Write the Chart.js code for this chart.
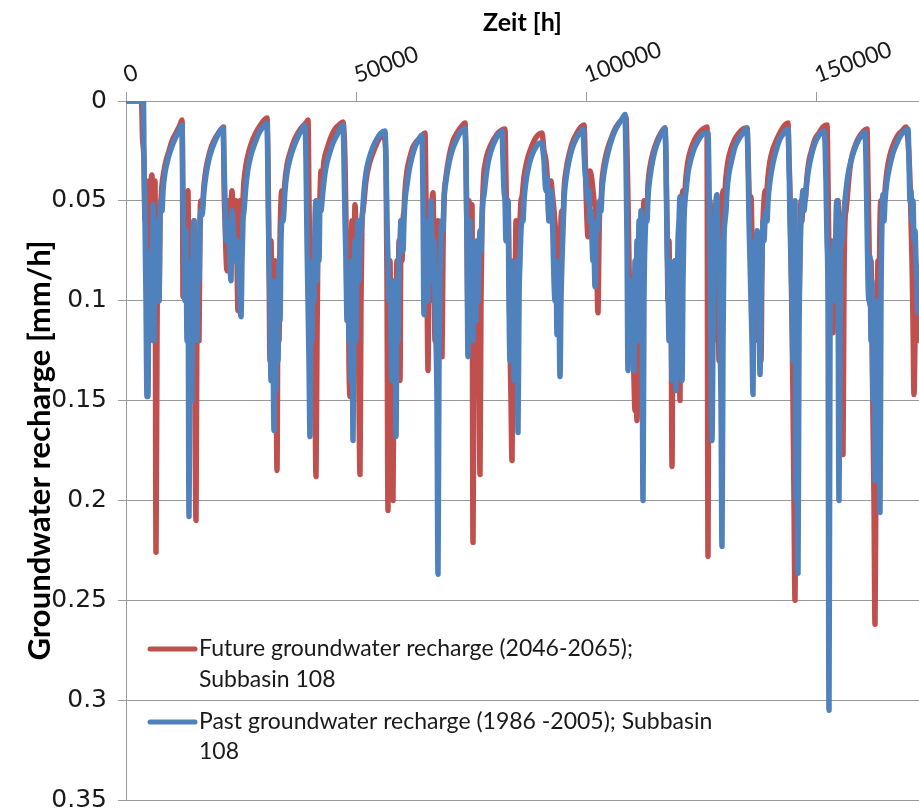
<!DOCTYPE html>
<html>
<head>
<meta charset="utf-8">
<title>Groundwater recharge - Subbasin 108</title>
<script src="https://cdn.jsdelivr.net/npm/chart.js@4.4.1/dist/chart.umd.min.js"></script>
<style>
  html, body { margin: 0; padding: 0; background: #fff; overflow: hidden; }
  #chart { display: block; }
</style>
</head>
<body>
<canvas id="chart" width="919" height="810"></canvas>
<script>
// [time in h, recharge in mm/h] - future scenario 2046-2065, one recession + winter per line
const futureRecharge = [
  [0,0],[3366,0],[3583,0.018],[3908,0.03],[4125,0.06],[4342,0.045],[4559,0.09],[4776,0.05],[4993,0.04],[5210,0.1],[5428,0.045],[5645,0.037],[5862,0.12],[6079,0.06],[6296,0.04],[6513,0.226],[6730,0.12],[6947,0.06],[7164,0.1],[7381,0.06],[7599,0.05],
  [7816,0.042],[8250,0.035],[8684,0.03],[9335,0.025],[9987,0.02],[10855,0.016],[11723,0.012],[12158,0.0095],
  [12267,0.03],[12375,0.098],[12592,0.06],[12809,0.05],[13026,0.1],[13243,0.06],[13460,0.045],[13677,0.13],[13894,0.075],[14112,0.15],[14329,0.07],[14546,0.12],[14763,0.06],[14980,0.15],[15197,0.21],[15414,0.1],[15631,0.07],[15848,0.12],[16065,0.06],[16283,0.05],
  [16500,0.055],[16934,0.042],[17368,0.034],[18019,0.027],[18671,0.022],[19539,0.018],[20407,0.015],[21168,0.013],
  [21276,0.04],[21493,0.06],[21927,0.085],[22144,0.05],[22578,0.06],[23013,0.045],[23447,0.07],[23881,0.05],[24315,0.105],[24532,0.06],[24749,0.05],
  [25184,0.055],[25618,0.04],[26052,0.032],[26703,0.025],[27572,0.019],[28657,0.014],[29526,0.011],[30611,0.0085],
  [30828,0.03],[31045,0.08],[31262,0.13],[31480,0.07],[31697,0.11],[31914,0.09],[32131,0.14],[32348,0.08],[32565,0.12],[32782,0.185],[32999,0.1],[33216,0.12],[33433,0.07],[33651,0.05],[33868,0.045],
  [34085,0.055],[34519,0.04],[34953,0.032],[35604,0.026],[36473,0.02],[37341,0.016],[38210,0.013],[39078,0.011],[39512,0.0095],
  [39729,0.05],[39946,0.09],[40164,0.13],[40381,0.08],[40598,0.12],[40815,0.07],[41032,0.14],[41249,0.188],[41466,0.12],[41683,0.07],[41900,0.06],[42117,0.047],[42335,0.035],
  [42552,0.04],[42986,0.03],[43637,0.024],[44506,0.018],[45374,0.014],[46242,0.012],[47111,0.0105],
  [47545,0.03],[47762,0.06],[47979,0.1],[48196,0.07],[48413,0.13],[48630,0.148],[48848,0.09],[49065,0.06],[49282,0.11],[49499,0.08],[49716,0.052],[49933,0.07],[50150,0.12],[50367,0.09],[50584,0.15],[50801,0.187],[51019,0.1],[51236,0.06],
  [51453,0.055],[52104,0.04],[52755,0.032],[53624,0.026],[54492,0.021],[55361,0.018],[56012,0.018],
  [56446,0.03],[56663,0.09],[56880,0.205],[57097,0.12],[57314,0.08],[57532,0.14],[57749,0.1],[57966,0.2],[58183,0.12],[58400,0.09],[58617,0.1],[58834,0.08],[59051,0.12],[59268,0.07],[59485,0.14],[59703,0.06],[59920,0.08],[60137,0.06],
  [60354,0.055],[60571,0.045],[61005,0.035],[61656,0.028],[62308,0.023],[63176,0.02],[64045,0.018],[64913,0.016],
  [65130,0.05],[65347,0.09],[65564,0.135],[65781,0.08],[65998,0.1],[66216,0.06],[66433,0.05],[66650,0.046],[66867,0.08],[67084,0.12],[67301,0.07],[67518,0.09],[67735,0.06],[67952,0.11],[68169,0.07],[68387,0.09],[68604,0.128],[68821,0.075],
  [69038,0.05],[69472,0.038],[70123,0.028],[70992,0.02],[71860,0.016],[72729,0.013],[73597,0.011],
  [73814,0.03],[74031,0.07],[74248,0.11],[74465,0.05],[74682,0.09],[74900,0.07],[75117,0.052],[75334,0.221],[75551,0.13],[75768,0.09],[75985,0.14],[76202,0.1],[76419,0.08],[76636,0.12],[76853,0.187],[77071,0.1],[77288,0.06],[77505,0.045],[77722,0.035],
  [77939,0.032],[78373,0.027],[79024,0.023],[79893,0.019],[80761,0.016],[81630,0.0145],[82281,0.014],
  [82498,0.04],[82715,0.06],[82932,0.05],[83149,0.08],[83366,0.12],[83584,0.15],[83801,0.18],[84018,0.12],[84235,0.08],[84452,0.1],[84669,0.06],[84886,0.07],[85103,0.12],[85320,0.07],[85537,0.06],[85755,0.05],
  [85972,0.048],[86406,0.038],[87057,0.03],[87708,0.025],[88577,0.02],[89445,0.017],[90314,0.016],
  [90748,0.025],[91182,0.03],[91616,0.045],[91833,0.06],[92050,0.05],[92268,0.04],[92485,0.045],[92919,0.055],[93353,0.07],[93570,0.09],[93787,0.08],[94004,0.1],[94221,0.08],[94439,0.06],[94656,0.055],
  [94873,0.06],[95090,0.045],[95524,0.035],[96175,0.027],[97044,0.02],[97912,0.016],[98781,0.013],[99432,0.012],
  [99649,0.025],[99866,0.045],[100083,0.06],[100300,0.068],[100517,0.04],[100734,0.035],[101169,0.04],[101603,0.05],[102037,0.06],[102471,0.106],[102688,0.07],[102905,0.05],
  [103123,0.05],[103340,0.04],[103774,0.032],[104425,0.025],[105294,0.019],[106162,0.014],[107030,0.011],[107899,0.009],[108550,0.008],
  [108767,0.025],[108984,0.05],[109201,0.08],[109418,0.11],[109636,0.13],[109853,0.1],[110070,0.12],[110287,0.14],[110504,0.155],[110721,0.145],[110938,0.16],[111155,0.12],[111372,0.08],[111589,0.1],[111807,0.065],[112024,0.13],[112241,0.07],[112458,0.05],[112675,0.06],[112892,0.05],
  [113109,0.055],[113326,0.042],[113760,0.033],[114412,0.026],[115280,0.02],[116149,0.016],[117017,0.0135],
  [117234,0.03],[117451,0.06],[117668,0.1],[117885,0.07],[118102,0.12],[118320,0.09],[118537,0.183],[118754,0.1],[118971,0.13],[119188,0.08],[119405,0.12],[119622,0.1],[119839,0.145],[120056,0.09],[120273,0.15],[120491,0.07],[120708,0.05],[120925,0.045],
  [121142,0.05],[121576,0.038],[122010,0.03],[122662,0.024],[123530,0.019],[124398,0.016],[125267,0.014],[126135,0.013],
  [126352,0.228],[126569,0.08],[126786,0.05],[127004,0.07],[127221,0.06],[127438,0.09],[127655,0.06],[127872,0.08],[128089,0.07],[128306,0.12],[128523,0.09],[128740,0.13],[128957,0.08],[129175,0.06],[129392,0.05],[129609,0.045],
  [129826,0.05],[130260,0.038],[130694,0.03],[131346,0.024],[132214,0.019],[133083,0.016],[133951,0.014],[134820,0.0135],
  [135037,0.025],[135254,0.045],[135471,0.06],[135688,0.048],[135905,0.07],[136122,0.1],[136339,0.08],[136556,0.12],[136773,0.09],[136990,0.11],[137207,0.07],[137424,0.1],[137641,0.12],[137859,0.13],[138076,0.08],[138293,0.06],[138510,0.05],[138727,0.045],
  [138944,0.05],[139378,0.038],[139812,0.03],[140464,0.024],[141332,0.019],[142201,0.015],[143069,0.012],[143720,0.011],
  [143937,0.03],[144154,0.045],[144372,0.08],[144589,0.11],[144806,0.15],[145023,0.2],[145240,0.25],[145457,0.18],[145674,0.12],[145891,0.08],[146108,0.1],[146325,0.07],[146543,0.05],[146760,0.06],[146977,0.045],[147194,0.05],
  [147411,0.05],[147845,0.038],[148279,0.03],[148931,0.024],[149582,0.019],[150450,0.016],[151319,0.013],[152187,0.012],
  [152404,0.04],[152621,0.08],[152838,0.1],[153056,0.07],[153273,0.09],[153490,0.116],[153707,0.08],[153924,0.1],[154141,0.07],[154358,0.06],[154575,0.05],[154792,0.08],[155009,0.12],[155227,0.14],[155444,0.16],[155661,0.177],[155878,0.09],[156095,0.06],[156312,0.055],
  [156529,0.05],[156963,0.038],[157398,0.03],[158049,0.024],[158917,0.019],[159786,0.016],[160437,0.0145],[160871,0.014],
  [161088,0.04],[161305,0.07],[161522,0.102],[161740,0.08],[161957,0.12],[162174,0.16],[162391,0.2],[162608,0.262],[162825,0.18],[163042,0.12],[163259,0.08],[163476,0.1],[163693,0.06],[163911,0.05],[164128,0.055],
  [164345,0.06],[164779,0.045],[165213,0.035],[165864,0.027],[166733,0.021],[167601,0.017],[168470,0.015],[169338,0.013],
  [169772,0.02],[170206,0.04],[170424,0.06],[170641,0.08],[170858,0.11],[171075,0.147],[171292,0.12],[171509,0.1],[171726,0.12],[171943,0.108],[172160,0.1]
];

// [time in h, recharge in mm/h] - reference period 1986-2005
const pastRecharge = [
  [0,0],[3800,0],[3908,0.03],[4125,0.06],[4342,0.1],[4559,0.148],[4776,0.148],[4993,0.08],[5210,0.1],[5428,0.075],[5645,0.09],[5862,0.052],[6079,0.12],[6296,0.08],[6513,0.06],[6730,0.09],[6947,0.07],[7164,0.1],[7381,0.06],[7599,0.05],
  [7816,0.055],[8033,0.045],[8467,0.036],[9118,0.029],[9770,0.024],[10638,0.019],[11506,0.015],[12158,0.012],
  [12375,0.05],[12592,0.07],[12809,0.1],[13026,0.065],[13243,0.12],[13460,0.08],[13677,0.208],[13894,0.12],[14112,0.1],[14329,0.15],[14546,0.08],[14763,0.06],[14980,0.1],[15197,0.07],[15414,0.12],[15631,0.075],[15848,0.09],[16065,0.065],[16283,0.055],
  [16500,0.057],[16934,0.045],[17368,0.037],[18019,0.029],[18671,0.024],[19539,0.019],[20407,0.015],[21059,0.0135],
  [21276,0.03],[21493,0.05],[21710,0.07],[21927,0.06],[22361,0.065],[22796,0.09],[23013,0.055],[23230,0.06],[23664,0.08],[24098,0.07],[24532,0.09],[24967,0.108],[25184,0.08],[25401,0.06],
  [25618,0.055],[26052,0.042],[26486,0.034],[27138,0.027],[28006,0.021],[28874,0.016],[29743,0.013],[30611,0.011],
  [30828,0.04],[31045,0.08],[31262,0.1],[31480,0.14],[31697,0.09],[31914,0.12],[32131,0.165],[32348,0.1],[32565,0.145],[32782,0.09],[32999,0.13],[33216,0.08],[33433,0.11],[33651,0.07],[33868,0.06],
  [34085,0.06],[34519,0.045],[34953,0.036],[35604,0.029],[36256,0.024],[37124,0.019],[37993,0.015],[38861,0.012],
  [39078,0.03],[39295,0.07],[39512,0.1],[39729,0.13],[39946,0.168],[40164,0.1],[40381,0.12],[40598,0.08],[40815,0.1],[41032,0.06],[41249,0.05],[41466,0.09],[41683,0.06],[41900,0.08],[42117,0.05],[42335,0.055],
  [42552,0.05],[42986,0.04],[43420,0.033],[44071,0.027],[44940,0.021],[45808,0.017],[46459,0.014],[47111,0.012],
  [47328,0.03],[47545,0.06],[47762,0.08],[47979,0.11],[48196,0.09],[48413,0.12],[48630,0.1],[48848,0.14],[49065,0.08],[49282,0.17],[49499,0.1],[49716,0.07],[49933,0.12],[50150,0.08],[50367,0.06],[50584,0.09],[50801,0.07],[51019,0.065],
  [51236,0.06],[51670,0.045],[52104,0.036],[52755,0.029],[53624,0.023],[54492,0.019],[55361,0.016],[56229,0.015],
  [56446,0.03],[56663,0.06],[56880,0.08],[57097,0.1],[57314,0.09],[57532,0.12],[57749,0.14],[57966,0.1],[58183,0.12],[58400,0.09],[58617,0.168],[58834,0.1],[59051,0.12],[59268,0.08],[59485,0.07],[59703,0.06],[59920,0.065],[60137,0.075],
  [60354,0.06],[60571,0.05],[61005,0.042],[61439,0.035],[62091,0.028],[62742,0.023],[63610,0.019],[64262,0.017],
  [64479,0.05],[64696,0.107],[64913,0.07],[65130,0.09],[65347,0.06],[65564,0.1],[65781,0.08],[65998,0.065],[66216,0.05],[66433,0.07],[66650,0.09],[66867,0.07],[67084,0.1],[67301,0.12],[67518,0.15],[67735,0.237],[67952,0.13],[68169,0.09],[68387,0.07],[68604,0.06],[68821,0.065],
  [69038,0.05],[69472,0.04],[70123,0.031],[70775,0.025],[71643,0.02],[72512,0.016],[73163,0.0145],[73597,0.0135],
  [73814,0.03],[74031,0.07],[74248,0.128],[74465,0.08],[74682,0.06],[74900,0.1],[75117,0.07],[75334,0.12],[75551,0.09],[75768,0.08],[75985,0.11],[76202,0.07],[76419,0.1],[76636,0.08],[76853,0.065],[77071,0.075],[77288,0.06],[77505,0.05],[77722,0.047],
  [78156,0.038],[78590,0.031],[79242,0.025],[79893,0.021],[80761,0.017],[81630,0.015],
  [81847,0.03],[82064,0.045],[82281,0.05],[82498,0.07],[82715,0.06],[82932,0.05],[83149,0.1],[83366,0.13],[83584,0.08],[83801,0.12],[84018,0.09],[84235,0.14],[84452,0.1],[84669,0.12],[84886,0.08],[85103,0.166],[85320,0.1],[85537,0.08],[85755,0.065],[85972,0.06],
  [86189,0.06],[86406,0.05],[86840,0.04],[87491,0.032],[88143,0.027],[89011,0.023],[89879,0.021],[90314,0.021],
  [90531,0.025],[90748,0.03],[90965,0.04],[91182,0.045],[91399,0.038],[91616,0.05],[91833,0.06],[92050,0.055],[92268,0.045],[92485,0.05],[92702,0.07],[92919,0.09],[93136,0.1],[93353,0.08],[93570,0.117],[93787,0.09],[94004,0.1],[94221,0.138],[94439,0.1],[94656,0.08],[94873,0.065],
  [95090,0.05],[95524,0.039],[96175,0.03],[96827,0.024],[97695,0.019],[98564,0.016],[99215,0.014],
  [99432,0.025],[99649,0.035],[99866,0.04],[100083,0.045],[100300,0.05],[100517,0.045],[100734,0.06],[100952,0.055],[101169,0.07],[101386,0.08],[101603,0.075],[101820,0.093],[102037,0.07],[102254,0.06],[102471,0.065],[102688,0.055],[102905,0.05],
  [103123,0.055],[103340,0.045],[103774,0.036],[104425,0.028],[105076,0.022],[105945,0.016],[106813,0.012],[107682,0.009],[108333,0.0067],
  [108550,0.03],[108767,0.07],[108984,0.135],[109201,0.1],[109418,0.13],[109636,0.09],[109853,0.12],[110070,0.1],[110287,0.135],[110504,0.08],[110721,0.11],[110938,0.07],[111155,0.12],[111372,0.06],[111589,0.1],[111807,0.055],[112024,0.09],[112241,0.2],[112458,0.1],[112675,0.07],[112892,0.06],
  [113109,0.06],[113326,0.048],[113760,0.038],[114412,0.029],[115063,0.023],[115931,0.018],[116583,0.015],[117017,0.0135],
  [117234,0.03],[117451,0.07],[117668,0.09],[117885,0.12],[118102,0.08],[118320,0.1],[118537,0.14],[118754,0.09],[118971,0.12],[119188,0.08],[119405,0.145],[119622,0.1],[119839,0.07],[120056,0.06],[120273,0.048],[120491,0.1],[120708,0.14],[120925,0.09],[121142,0.06],[121359,0.05],
  [121576,0.045],[122010,0.036],[122662,0.029],[123313,0.024],[124181,0.02],[125050,0.017],[125701,0.016],[126352,0.016],
  [126569,0.04],[126786,0.08],[127004,0.12],[127221,0.17],[127438,0.12],[127655,0.08],[127872,0.06],[128089,0.05],[128306,0.047],[128523,0.08],[128740,0.07],[128957,0.12],[129175,0.15],[129392,0.223],[129609,0.12],[129826,0.07],[130043,0.06],
  [130260,0.055],[130477,0.045],[130911,0.036],[131563,0.029],[132214,0.023],[133083,0.019],[133951,0.016],[134820,0.0135],
  [135037,0.03],[135254,0.06],[135471,0.08],[135688,0.1],[135905,0.12],[136122,0.147],[136339,0.09],[136556,0.07],[136773,0.08],[136990,0.065],[137207,0.07],[137424,0.09],[137641,0.137],[137859,0.1],[138076,0.08],[138293,0.06],[138510,0.07],[138727,0.06],[138944,0.055],
  [139161,0.06],[139378,0.05],[139812,0.04],[140464,0.031],[141115,0.025],[141984,0.019],[142852,0.016],[143720,0.014],
  [143937,0.03],[144154,0.06],[144372,0.08],[144589,0.1],[144806,0.13],[145023,0.1],[145240,0.05],[145457,0.2],[145674,0.15],[145891,0.2365],[146108,0.12],[146325,0.08],[146543,0.06],[146760,0.05],[146977,0.045],[147194,0.055],
  [147411,0.05],[147845,0.04],[148279,0.033],[148931,0.026],[149582,0.021],[150233,0.018],[150885,0.016],[151536,0.015],
  [151753,0.02],[151970,0.04],[152187,0.07],[152404,0.1],[152621,0.305],[152838,0.12],[153056,0.09],[153273,0.1],[153490,0.08],[153707,0.07],[153924,0.1],[154141,0.06],[154358,0.05],[154575,0.09],[154792,0.2],[155009,0.12],[155227,0.066],[155444,0.07],[155661,0.06],
  [155878,0.055],[156312,0.045],[156746,0.037],[157398,0.03],[158049,0.025],[158917,0.02],[159786,0.017],[160437,0.0155],
  [160654,0.03],[160871,0.06],[161088,0.09],[161305,0.1],[161522,0.078],[161740,0.12],[161957,0.09],[162174,0.15],[162391,0.1],[162608,0.19],[162825,0.13],[163042,0.1],[163259,0.18],[163476,0.12],[163693,0.206],[163911,0.1],[164128,0.06],[164345,0.047],
  [164562,0.06],[164779,0.05],[165213,0.04],[165864,0.032],[166516,0.026],[167384,0.021],[168253,0.017],[169121,0.015],[169772,0.014],
  [169989,0.03],[170206,0.05],[170424,0.045],[170641,0.06],[170858,0.05],[171075,0.07],[171292,0.065],[171509,0.08],[171726,0.09],[171943,0.106],[172160,0.1]
];

const timeTicks = [0, 50000, 100000, 150000];
const rechargeTicks = [0, 0.05, 0.1, 0.15, 0.2, 0.25, 0.3, 0.35];
const timeEnd = 172160;

const seriesNames = [
  ['Future groundwater recharge (2046-2065);', 'Subbasin 108'],
  ['Past groundwater recharge (1986 -2005); Subbasin', '108']
];
const seriesColors = ['#C0504D', '#4F81BD'];

const gridGray = '#9a9a9a';
const textFont = 'Lato, "Open Sans", sans-serif';

// legend sits inside the plot, lower left, lines wrap like the spreadsheet legend
const insideLegend = {
  id: 'insideLegend',
  afterDraw(chart) {
    const ctx = chart.ctx;
    const rows = [[649, 680], [722, 752]];
    ctx.save();
    ctx.font = '23px ' + textFont;
    ctx.textBaseline = 'middle';
    ctx.fillStyle = '#1a1a1a';
    seriesNames.forEach((lines, i) => {
      ctx.strokeStyle = seriesColors[i];
      ctx.lineWidth = 5;
      ctx.lineCap = 'round';
      ctx.beginPath();
      ctx.moveTo(150, rows[i][0]);
      ctx.lineTo(195, rows[i][0]);
      ctx.stroke();
      lines.forEach((t, j) => ctx.fillText(t, 199, rows[i][j]));
    });
    ctx.restore();
  }
};

function toPoints(series) {
  return series.map(([x, y]) => ({ x: x, y: y }));
}

const lineStyle = {
  borderWidth: 5.5,
  pointRadius: 0,
  pointHoverRadius: 0,
  cubicInterpolationMode: 'monotone',
  borderJoinStyle: 'round',
  borderCapStyle: 'round',
  fill: false
};

new Chart(document.getElementById('chart').getContext('2d'), {
  type: 'line',
  data: {
    datasets: [
      Object.assign({
        label: seriesNames[0].join(' '),
        data: toPoints(futureRecharge),
        borderColor: seriesColors[0],
        order: 2
      }, lineStyle),
      Object.assign({
        label: seriesNames[1].join(' '),
        data: toPoints(pastRecharge),
        borderColor: seriesColors[1],
        order: 1
      }, lineStyle)
    ]
  },
  options: {
    responsive: false,
    animation: false,
    devicePixelRatio: 1,
    layout: { padding: { left: 0, right: 0, top: 0, bottom: 10 } },
    plugins: {
      legend: { display: false },
      tooltip: { enabled: false }
    },
    scales: {
      x: {
        type: 'linear',
        position: 'top',
        min: 0,
        max: timeEnd,
        afterBuildTicks: s => { s.ticks = timeTicks.map(v => ({ value: v })); },
        afterFit: s => { s.height = 101; s.paddingLeft = 0; s.paddingRight = 0; },
        grid: { drawOnChartArea: false, drawTicks: true, tickLength: 9, color: gridGray },
        border: { display: true, color: gridGray },
        ticks: {
          autoSkip: false,
          minRotation: 20,
          maxRotation: 20,
          padding: 3,
          labelOffset: 8,
          color: '#1a1a1a',
          font: { family: textFont, size: 23 },
          callback: v => String(v)
        },
        title: {
          display: true,
          text: 'Zeit [h]',
          color: '#000',
          font: { family: textFont, size: 25, weight: 'bold' },
          padding: { top: 8, bottom: 0 }
        }
      },
      y: {
        type: 'linear',
        reverse: true,
        min: 0,
        max: 0.35,
        afterBuildTicks: s => { s.ticks = rechargeTicks.map(v => ({ value: v })); },
        afterFit: s => { s.width = 126; s.paddingTop = 0; s.paddingBottom = 0; },
        grid: { color: gridGray, tickLength: 8 },
        border: { display: true, color: gridGray },
        ticks: {
          padding: 11,
          color: '#1a1a1a',
          font: { family: '"DejaVu Sans", sans-serif', size: 25 },
          callback: v => String(Number(v.toFixed(2)))
        },
        title: {
          display: true,
          text: 'Groundwater recharge [mm/h]',
          color: '#000',
          font: { family: textFont, size: 31, weight: 'bold' },
          padding: { top: 21, bottom: 0 }
        }
      }
    }
  },
  plugins: [insideLegend]
});
</script>
</body>
</html>
